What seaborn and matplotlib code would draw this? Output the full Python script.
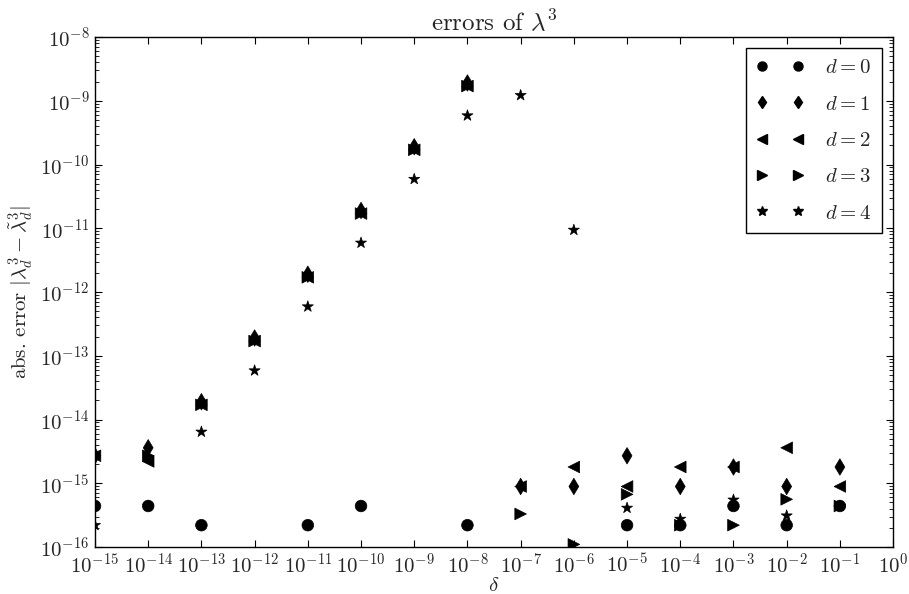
import numpy as np
import pandas as pd
import matplotlib
matplotlib.use("Agg")
import matplotlib.pyplot as plt
import seaborn as sns
from matplotlib.lines import Line2D
from matplotlib.ticker import LogLocator, NullLocator

# ----------------------------------------
# Data
# ----------------------------------------
nan = np.nan

delta = [1e-15, 1e-14, 1e-13, 1e-12, 1e-11, 1e-10, 1e-9, 1e-8,
         1e-7, 1e-6, 1e-5, 1e-4, 1e-3, 1e-2, 1e-1]

err_d0 = [4.4e-16, 4.4e-16, 2.2e-16, nan, 2.2e-16, 4.4e-16, nan, 2.2e-16,
          nan, nan, 2.2e-16, 2.2e-16, 4.4e-16, 2.2e-16, 4.4e-16]
err_d1 = [2.7e-15, 3.6e-15, 1.9e-14, 1.9e-13, 1.9e-12, 1.9e-11, 1.9e-10, 1.9e-9,
          8.9e-16, 8.9e-16, 2.7e-15, 8.9e-16, 1.8e-15, 8.9e-16, 1.8e-15]
err_d2 = [2.7e-15, 2.2e-15, 1.7e-14, 1.7e-13, 1.7e-12, 1.7e-11, 1.7e-10, 1.7e-9,
          8.9e-16, 1.8e-15, 8.9e-16, 1.8e-15, 1.8e-15, 3.6e-15, 8.9e-16]
err_d3 = [2.7e-15, 2.7e-15, 1.7e-14, 1.7e-13, 1.7e-12, 1.7e-11, 1.7e-10, 1.7e-9,
          3.3e-16, 1.1e-16, 6.7e-16, 2.2e-16, 2.2e-16, 5.6e-16, 4.4e-16]
err_d4 = [2.2e-16, 4.4e-16, 6.4e-15, 5.85e-14, 5.9e-13, 5.9e-12, 5.9e-11, 5.85e-10,
          1.22e-9, 9.4e-12, 4.1e-16, 2.75e-16, 5.5e-16, 3.1e-16, 4.4e-16]

degrees = [0, 1, 2, 3, 4]
marker_list = ["o", "d", "<", ">", "*"]

frames = []
for d, err in zip(degrees, [err_d0, err_d1, err_d2, err_d3, err_d4]):
    frames.append(pd.DataFrame({"delta": delta, "error": err, "d": d}))
df = pd.concat(frames, ignore_index=True).dropna()

# ----------------------------------------
# Style
# ----------------------------------------
sns.set_style("ticks")
plt.rcParams["font.family"] = "serif"
plt.rcParams["font.serif"] = ["cmr10", "DejaVu Serif"]
plt.rcParams["mathtext.fontset"] = "cm"
plt.rcParams["axes.unicode_minus"] = False
plt.rcParams["axes.formatter.use_mathtext"] = True
plt.rcParams["axes.edgecolor"] = "black"
plt.rcParams["axes.linewidth"] = 1.0

fig = plt.figure(figsize=(9.09, 5.94), dpi=100)
ax = fig.add_axes([0.1045, 0.0791, 0.878, 0.8586])

sns.scatterplot(
    data=df,
    x="delta",
    y="error",
    style="d",
    markers=dict(zip(degrees, marker_list)),
    color="black",
    edgecolor="black",
    linewidth=0.5,
    s=70,
    legend=False,
    ax=ax
)

ax.set_xscale("log")
ax.set_yscale("log")
ax.set_xlim(1e-15, 1e0)
ax.set_ylim(1e-16, 1e-8)

ax.xaxis.set_major_locator(LogLocator(base=10, numticks=20))
ax.xaxis.set_minor_locator(NullLocator())
ax.yaxis.set_major_locator(LogLocator(base=10, numticks=20))
ax.yaxis.set_minor_locator(LogLocator(base=10, subs=np.arange(2, 10), numticks=20))

ax.tick_params(which="both", direction="in", top=True, right=True,
               labelsize=15, color="black")
ax.tick_params(which="major", length=5, width=0.8, pad=4)
ax.tick_params(which="minor", length=3, width=0.6)

ax.set_title(r"errors of $\lambda^3$", fontsize=18, pad=4)
ax.set_xlabel(r"$\delta$", fontsize=15, labelpad=0)
ax.set_ylabel(r"abs. error $|\lambda_d^3 - \tilde{\lambda}_d^3|$", fontsize=15,
              labelpad=4)

handles = [
    Line2D([], [], linestyle="", marker=m, color="black",
           markersize=6.5 if m != "*" else 7.5)
    for m in marker_list
]
labels = [rf"$d={d}$" for d in degrees]
leg = ax.legend(
    handles, labels,
    loc="upper right",
    numpoints=2,
    fontsize=15,
    frameon=True,
    fancybox=False,
    framealpha=1,
    edgecolor="black",
    labelspacing=0.85,
    handlelength=2.3,
    handletextpad=1.0,
    borderpad=0.5,
    borderaxespad=0.55
)
leg.get_frame().set_linewidth(1.0)

plt.savefig("out.png", dpi=100)
plt.close()
